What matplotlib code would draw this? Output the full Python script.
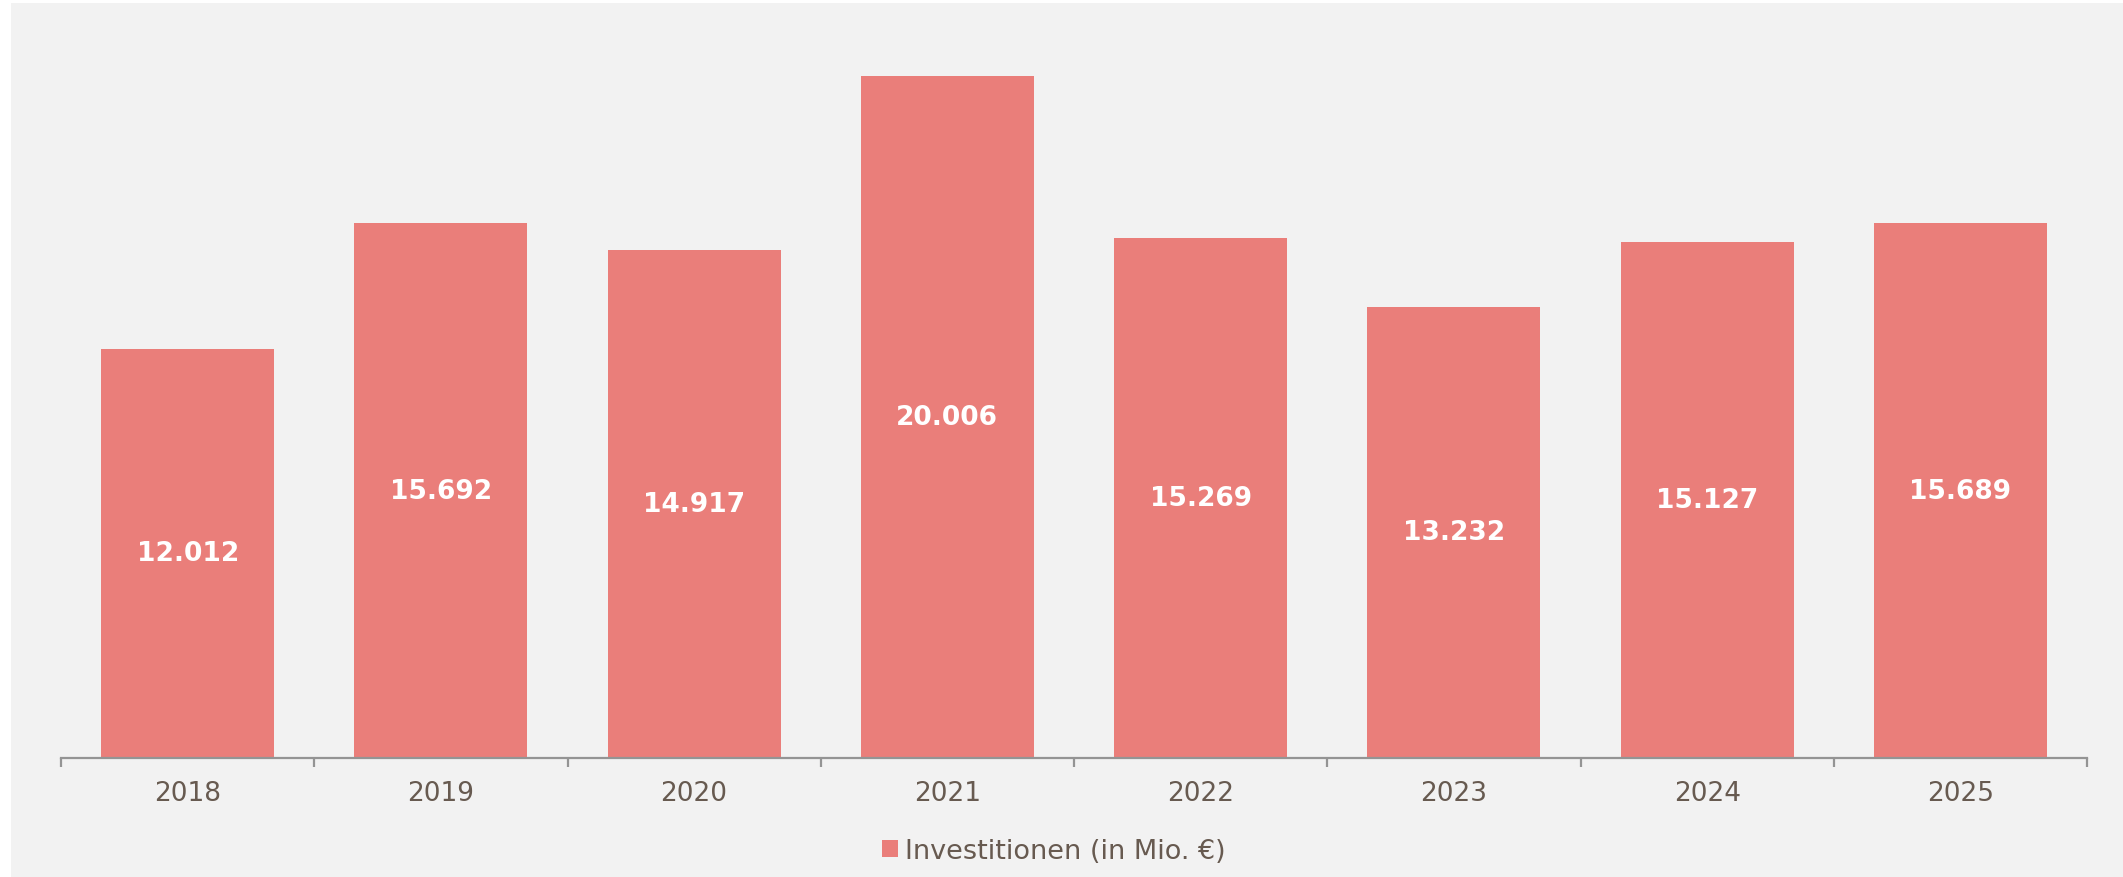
import matplotlib.pyplot as plt
from matplotlib.patches import Patch

years = ['2018', '2019', '2020', '2021', '2022', '2023', '2024', '2025']
investitionen = [12012, 15692, 14917, 20006, 15269, 13232, 15127, 15689]
series_name = 'Investitionen (in Mio. €)'

bar_color = '#ea7e7a'
text_color = '#675a50'
axis_color = '#949494'
panel_color = '#f2f2f2'

W, H, DPI = 2123, 878, 100
fig = plt.figure(figsize=(W / DPI, H / DPI), dpi=DPI, facecolor='white')

# grey panel behind the chart, leaving a thin white strip on the left and top
panel = fig.add_axes([11 / W, 0, 1 - 11 / W, 1 - 4 / H], zorder=0)
panel.set_facecolor(panel_color)
panel.set_xticks([])
panel.set_yticks([])
for spine in panel.spines.values():
    spine.set_visible(False)

left, right = 61 / W, 2087 / W
bottom, top = 1 - 759 / H, 1 - 4 / H
ax = fig.add_axes([left, bottom, right - left, top - bottom], zorder=1)
ax.set_facecolor('none')

x = list(range(len(years)))
bars = ax.bar(x, investitionen, width=0.684, color=bar_color, zorder=2)

for rect, value in zip(bars, investitionen):
    label = f'{value:,}'.replace(',', '.')
    ax.text(rect.get_x() + rect.get_width() / 2, value / 2, label,
            ha='center', va='center', color='white', fontsize=19, fontweight='bold', zorder=3)

ax.set_xlim(-0.5, len(years) - 0.5)
ax.set_ylim(0, 22150)

for side in ('top', 'right', 'left'):
    ax.spines[side].set_visible(False)
ax.spines['bottom'].set_color(axis_color)
ax.spines['bottom'].set_linewidth(1.6)
ax.spines['bottom'].set_zorder(4)

# boundary ticks between categories, labels centred on the bars
ax.set_xticks([i - 0.5 for i in range(len(years) + 1)])
ax.set_xticklabels([])
ax.tick_params(axis='x', which='major', length=6.5, width=1.6, color=axis_color, direction='out')
ax.set_xticks(x, minor=True)
ax.set_xticklabels(years, minor=True)
ax.tick_params(axis='x', which='minor', length=0, pad=16, labelsize=19, labelcolor=text_color)
ax.set_yticks([])

handle = Patch(facecolor=bar_color, edgecolor='none')
leg = fig.legend([handle], [series_name], loc='center', bbox_to_anchor=(0.4965, 1 - 852 / H),
                 frameon=False, fontsize=19.5, labelcolor=text_color,
                 handlelength=0.56, handleheight=0.56, handletextpad=0.28, borderpad=0)
leg.set_zorder(5)

fig.savefig('out.png', dpi=DPI, facecolor=fig.get_facecolor())
